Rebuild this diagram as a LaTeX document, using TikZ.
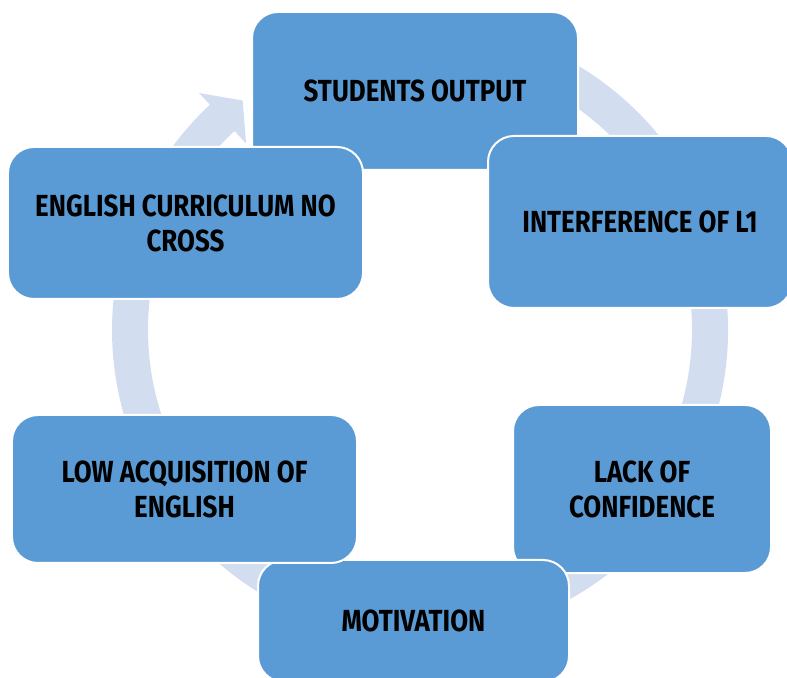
\documentclass[tikz,border=0pt]{standalone}
\usepackage{fontspec}
\setmainfont{Fira Sans}[FakeStretch=0.85]
\definecolor{stageblue}{HTML}{5B9BD5}
\definecolor{ringblue}{HTML}{D2DEEF}
\tikzset{
    stage/.style={fill=stageblue,draw=white,line width=0.5mm,rounded corners=6.5mm,
        align=center,inner sep=0pt,font=\fontsize{21.7}{24.9}\selectfont\bfseries},
    ringarrow/.style={fill=ringblue}
}
\begin{document}
\begin{tikzpicture}[x=0.25mm,y=0.25mm]
\useasboundingbox (0,0) rectangle (787,677);
\clip (0,0) rectangle (787,677);
\begin{scope}[shift={(420,347)}]
\fill[ringarrow] (463:308) arc[start angle=463,end angle=133,radius=308] -- (133:324)
    -- (127.7:290) -- (133:255) -- (133:272) arc[start angle=133,end angle=463,radius=272] -- cycle;
\end{scope}
\node[stage,minimum width=81.5mm,minimum height=39.5mm] (students) at (415,586) {STUDENTS OUTPUT};
\node[stage,minimum width=76mm,minimum height=43mm] (interference) at (640,455) {INTERFERENCE OF L1};
\node[stage,minimum width=64.5mm,minimum height=42mm] (confidence) at (642,188) {LACK OF\\CONFIDENCE};
\node[stage,minimum width=77.75mm,minimum height=30.5mm] (motivation) at (413.5,56) {MOTIVATION};
\node[stage,minimum width=86.25mm,minimum height=37mm] (acquisition) at (184.5,188) {LOW ACQUISITION OF\\ENGLISH};
\node[stage,minimum width=88.75mm,minimum height=38mm] (curriculum) at (185.5,454) {ENGLISH CURRICULUM NO\\CROSS};
\end{tikzpicture}
\end{document}
